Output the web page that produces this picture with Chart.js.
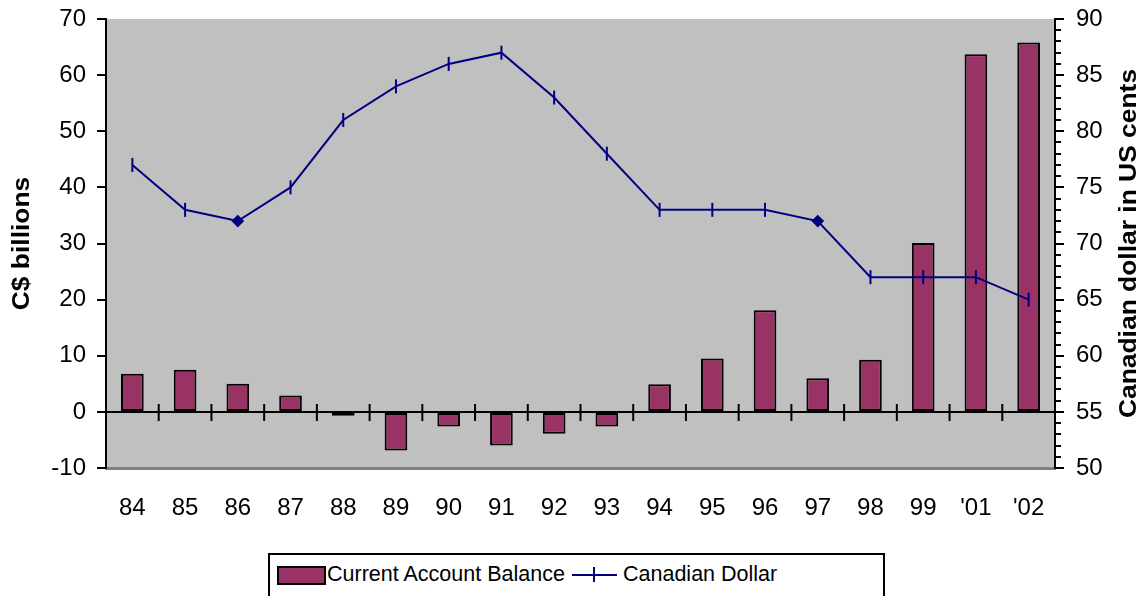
<!DOCTYPE html>
<html>
<head>
<meta charset="utf-8">
<script src="https://cdn.jsdelivr.net/npm/chart.js@4"></script>
<style>
  html, body { margin: 0; padding: 0; background: #fff; }
  #wrap { position: relative; width: 1146px; height: 596px; overflow: hidden; }
  #legend {
    position: absolute; left: 268px; top: 553px; width: 617px; height: 60px;
    border: 2px solid #000; box-sizing: border-box; background: #fff;
    font-family: 'Liberation Sans', Arial, sans-serif; font-size: 21.5px; color: #000;
  }
  .item { position: absolute; top: 6px; white-space: nowrap; line-height: 26px; }
  .swatch { position: absolute; left: 7px; top: 11px; width: 49px; height: 19px;
    background: #993366; border: 2px solid #000; box-sizing: border-box; }
  .lineSample { position: absolute; left: 302px; top: 19px; width: 45px; height: 2px; background: #000080; }
  .lineTick { position: absolute; left: 323px; top: 12px; width: 2px; height: 15px; background: #000080; }
</style>
</head>
<body>
<div id="wrap">
  <canvas id="chart" width="1146" height="596"></canvas>
  <div id="legend">
    <div class="swatch"></div>
    <div class="item" style="left:57px">Current Account Balance</div>
    <div class="lineSample"></div>
    <div class="lineTick"></div>
    <div class="item" style="left:353px">Canadian Dollar</div>
  </div>
</div>
<script>
// Years on the category axis
const YEARS = ['84', '85', '86', '87', '88', '89', '90', '91', '92', '93', '94', '95', '96', '97', '98', '99', "'01", "'02"];

// Current account balance, C$ billions
const BALANCE = [6.8, 7.5, 5.0, 2.9, -0.7, -6.9, -2.6, -6.0, -3.9, -2.6, 4.9, 9.5, 18.1, 6.0, 9.3, 30.1, 63.7, 65.8];

// Canadian dollar, US cents
const CAD_USD = [77, 73, 72, 75, 81, 84, 86, 87, 83, 78, 73, 73, 73, 72, 67, 67, 67, 65];

// Points drawn as diamonds instead of ticks
const DIAMOND_YEARS = ['86', '97'];

const FONT = "'Liberation Sans', Arial, sans-serif";
const NAVY = '#000080';

// draws a rotated bold axis title, slightly stretched along its length
function drawTitle(ctx, text, cx, cy) {
  ctx.save();
  ctx.fillStyle = '#000';
  ctx.font = 'bold 24px ' + FONT;
  ctx.textAlign = 'center';
  ctx.textBaseline = 'middle';
  ctx.translate(cx, cy);
  ctx.rotate(-Math.PI / 2);
  ctx.scale(1.1, 1);
  ctx.fillText(text, 0, 0);
  ctx.restore();
}

// fixed axis widths, no extra room reserved for the end labels
function fixAxisWidth(width) {
  return (scale) => {
    scale.width = width;
    scale.paddingTop = 0;
    scale.paddingBottom = 0;
  };
}

// grey plot background, zero line with category ticks, minor ticks on right axis, titles
const decorations = {
  id: 'decorations',
  beforeDraw(chart) {
    const { ctx, chartArea: a } = chart;
    ctx.save();
    ctx.fillStyle = '#C0C0C0';
    ctx.fillRect(a.left, a.top, a.right - a.left, a.bottom - a.top);
    ctx.restore();
  },
  beforeDatasetsDraw(chart) {
    const { ctx, chartArea: a, scales } = chart;
    const x = scales.x, y = scales.y, y1 = scales.y1;
    const y0 = y.getPixelForValue(0);
    const half = (x.getPixelForValue(1) - x.getPixelForValue(0)) / 2;
    ctx.save();
    ctx.strokeStyle = '#000';
    ctx.lineWidth = 2;
    ctx.beginPath();
    ctx.moveTo(a.left, y0);
    ctx.lineTo(a.right, y0);
    for (let i = 0; i < YEARS.length - 1; i++) {
      const px = x.getPixelForValue(i) + half;
      ctx.moveTo(px, y0 - 8);
      ctx.lineTo(px, y0 + 9);
    }
    // minor ticks on the right axis
    for (let v = y1.min; v <= y1.max; v++) {
      if (v % 5 === 0) continue;
      const py = Math.round(y1.getPixelForValue(v));
      ctx.moveTo(a.right, py);
      ctx.lineTo(a.right + 6, py);
    }
    ctx.stroke();
    ctx.restore();
  },
  afterDraw(chart) {
    const { ctx, chartArea: a } = chart;
    const cy = (a.top + a.bottom) / 2;
    drawTitle(ctx, 'C$ billions', 22, cy);
    drawTitle(ctx, 'Canadian dollar in US cents', 1129, cy);
  },
};

new Chart(document.getElementById('chart'), {
  data: {
    labels: YEARS,
    datasets: [
      {
        type: 'line',
        label: 'Canadian Dollar',
        data: CAD_USD,
        yAxisID: 'y1',
        order: 0,
        borderColor: NAVY,
        borderWidth: 2,
        tension: 0,
        pointStyle: YEARS.map((yr) => (DIAMOND_YEARS.includes(yr) ? 'rectRot' : 'line')),
        rotation: YEARS.map((yr) => (DIAMOND_YEARS.includes(yr) ? 0 : 90)),
        pointRadius: YEARS.map((yr) => (DIAMOND_YEARS.includes(yr) ? 5 : 7)),
        pointBackgroundColor: NAVY,
        pointBorderColor: NAVY,
        pointBorderWidth: 2,
      },
      {
        type: 'bar',
        label: 'Current Account Balance',
        data: BALANCE,
        yAxisID: 'y',
        order: 1,
        backgroundColor: '#993366',
        borderColor: '#000',
        borderWidth: 2,
        borderSkipped: false,
        categoryPercentage: 1,
        barPercentage: 0.43,
      },
    ],
  },
  options: {
    responsive: false,
    animation: false,
    layout: { padding: { top: 19, left: 0, right: 0, bottom: 0 } },
    plugins: {
      legend: { display: false },
      tooltip: { enabled: false },
    },
    scales: {
      x: {
        offset: true,
        grid: { display: false, drawTicks: false },
        border: { display: true, color: '#808080', width: 3 },
        ticks: { color: '#000', font: { family: FONT, size: 24 }, padding: 26, maxRotation: 0 },
        afterFit(scale) {
          scale.height = 128;
          scale.paddingLeft = 0;
          scale.paddingRight = 0;
        },
      },
      y: {
        position: 'left',
        min: -10,
        max: 70,
        ticks: { stepSize: 10, color: '#000', font: { family: FONT, size: 24 }, padding: 11 },
        grid: { drawOnChartArea: false, drawTicks: true, tickLength: 9, color: '#000', lineWidth: 2 },
        border: { display: true, color: '#000', width: 2 },
        afterFit: fixAxisWidth(106),
      },
      y1: {
        position: 'right',
        min: 50,
        max: 90,
        ticks: { stepSize: 5, color: '#000', font: { family: FONT, size: 24 }, padding: 12 },
        grid: { drawOnChartArea: false, drawTicks: true, tickLength: 9, color: '#000', lineWidth: 2 },
        border: { display: true, color: '#000', width: 2 },
        afterFit: fixAxisWidth(91),
      },
    },
  },
  plugins: [decorations],
});
</script>
</body>
</html>
